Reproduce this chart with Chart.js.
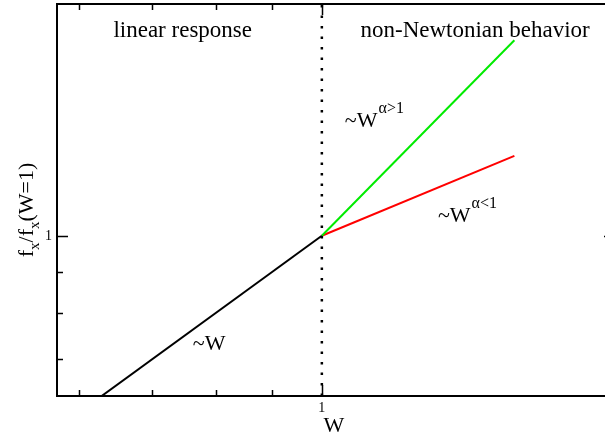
<!DOCTYPE html>
<html>
<head>
<meta charset="utf-8">
<script src="https://cdn.jsdelivr.net/npm/chart.js@4/dist/chart.umd.min.js"></script>
<style>
  html, body { margin: 0; padding: 0; background: #fff; overflow: hidden; }
  #flow { display: block; }
</style>
</head>
<body>
<canvas id="flow" width="625" height="437"></canvas>
<script>
// axis ranges (log-log)
const xMin = 0.5725, xMax = 1.854;
const yMin = 0.629, yMax = 1.955;

// regimes: linear response below W=1, power laws above
const linearW = [0.5, 1];
const linearF = [0.5, 1];
const thickW = [1, 1.5];
const thickF = [1, 1.76];
const thinW = [1, 1.5];
const thinF = [1, 1.26];
const crossoverW = [1, 1];
const crossoverF = [yMin, yMax];

// tick values
const xMajorTicks = [1];
const xMinorTicks = [0.6, 0.7, 0.8, 0.9];
const yMajorTicks = [1];
const yMinorTicks = [0.7, 0.8, 0.9];

// text placed in data coordinates
const regionLabels = [
  { text: 'linear response', x: 0.746, y: 1.775 },
  { text: 'non-Newtonian behavior', x: 1.381, y: 1.775 }
];
const lawLabels = [
  { base: '~W', sup: 'α>1', x: 1.0496, y: 1.371 },
  { base: '~W', sup: 'α<1', x: 1.277, y: 1.041 },
  { base: '~W', sup: '', x: 0.762, y: 0.719 }
];

function pts(xs, ys) {
  return xs.map((x, i) => ({ x: x, y: ys[i] }));
}

const SERIF = '"Liberation Serif", "Times New Roman", serif';

const decor = {
  id: 'decor',
  afterDatasetsDraw(chart) {
    const ctx = chart.ctx;
    const a = chart.chartArea;
    const xs = chart.scales.x, ys = chart.scales.y;
    ctx.save();

    // frame
    ctx.strokeStyle = '#000';
    ctx.lineWidth = 2;
    ctx.beginPath();
    ctx.moveTo(a.right, a.top);
    ctx.lineTo(a.left, a.top);
    ctx.lineTo(a.left, a.bottom);
    ctx.lineTo(a.right, a.bottom);
    ctx.stroke();

    // inward ticks, mirrored on top
    ctx.lineWidth = 1.5;
    const xTick = (v, len) => {
      const px = Math.round(xs.getPixelForValue(v)) + 0.5;
      ctx.beginPath();
      ctx.moveTo(px, a.bottom); ctx.lineTo(px, a.bottom - len);
      ctx.moveTo(px, a.top); ctx.lineTo(px, a.top + len);
      ctx.stroke();
    };
    const yTick = (v, len) => {
      const py = Math.round(ys.getPixelForValue(v)) + 0.5;
      ctx.beginPath();
      ctx.moveTo(a.left, py); ctx.lineTo(a.left + len, py);
      ctx.moveTo(a.right, py); ctx.lineTo(a.right - len, py);
      ctx.stroke();
    };
    xMajorTicks.forEach(v => xTick(v, 11));
    xMinorTicks.forEach(v => xTick(v, 6));
    yMajorTicks.forEach(v => yTick(v, 11));
    yMinorTicks.forEach(v => yTick(v, 6));

    // tick labels
    ctx.fillStyle = '#000';
    ctx.font = '14px ' + SERIF;
    ctx.textAlign = 'center';
    ctx.textBaseline = 'alphabetic';
    xMajorTicks.forEach(v => ctx.fillText(String(v), xs.getPixelForValue(v), 412));
    ctx.textAlign = 'right';
    ctx.textBaseline = 'middle';
    yMajorTicks.forEach(v => ctx.fillText(String(v), 52, ys.getPixelForValue(v) + 1));

    // axis titles
    ctx.textBaseline = 'alphabetic';
    ctx.textAlign = 'center';
    ctx.font = '22px ' + SERIF;
    ctx.fillText('W', 334, 432);

    const parts = [
      { t: 'f', sub: false }, { t: 'x', sub: true },
      { t: '/f', sub: false }, { t: 'x', sub: true },
      { t: '(W=1)', sub: false }
    ];
    const bigF = '22px ' + SERIF, smallF = '15px ' + SERIF;
    let total = 0;
    parts.forEach(p => { ctx.font = p.sub ? smallF : bigF; total += ctx.measureText(p.t).width; });
    ctx.save();
    ctx.translate(33, 210);
    ctx.rotate(-Math.PI / 2);
    ctx.textAlign = 'left';
    let cx = -total / 2;
    parts.forEach(p => {
      ctx.font = p.sub ? smallF : bigF;
      ctx.fillText(p.t, cx, p.sub ? 6 : 0);
      cx += ctx.measureText(p.t).width;
    });
    ctx.restore();

    // regime labels
    ctx.font = '23px ' + SERIF;
    ctx.textAlign = 'center';
    regionLabels.forEach(l => {
      ctx.fillText(l.text, xs.getPixelForValue(l.x), ys.getPixelForValue(l.y));
    });

    // power-law labels with exponent
    ctx.textAlign = 'left';
    lawLabels.forEach(l => {
      const px = xs.getPixelForValue(l.x), py = ys.getPixelForValue(l.y);
      ctx.font = '22px ' + SERIF;
      ctx.fillText(l.base, px, py);
      const w = ctx.measureText(l.base).width;
      if (l.sup) {
        ctx.font = '16px ' + SERIF;
        ctx.fillText(l.sup, px + w + 1, py - 14);
      }
    });

    ctx.restore();
  }
};

new Chart(document.getElementById('flow'), {
  type: 'scatter',
  data: {
    datasets: [
      {
        data: pts(crossoverW, crossoverF),
        showLine: true, pointRadius: 0,
        borderColor: '#000', borderWidth: 2.5,
        borderDash: [2.5, 8], borderCapStyle: 'butt'
      },
      {
        data: pts(linearW, linearF),
        showLine: true, pointRadius: 0,
        borderColor: '#000', borderWidth: 2
      },
      {
        data: pts(thickW, thickF),
        showLine: true, pointRadius: 0,
        borderColor: 'rgb(0,235,0)', borderWidth: 2
      },
      {
        data: pts(thinW, thinF),
        showLine: true, pointRadius: 0,
        borderColor: 'rgb(255,0,0)', borderWidth: 2
      }
    ]
  },
  options: {
    responsive: false,
    animation: false,
    layout: { padding: { left: 57, top: 4, right: 10, bottom: 41 } },
    plugins: {
      legend: { display: false },
      tooltip: { enabled: false }
    },
    scales: {
      x: { type: 'logarithmic', min: xMin, max: xMax, bounds: 'data', display: false },
      y: { type: 'logarithmic', min: yMin, max: yMax, bounds: 'data', display: false }
    }
  },
  plugins: [decor]
});
</script>
</body>
</html>
